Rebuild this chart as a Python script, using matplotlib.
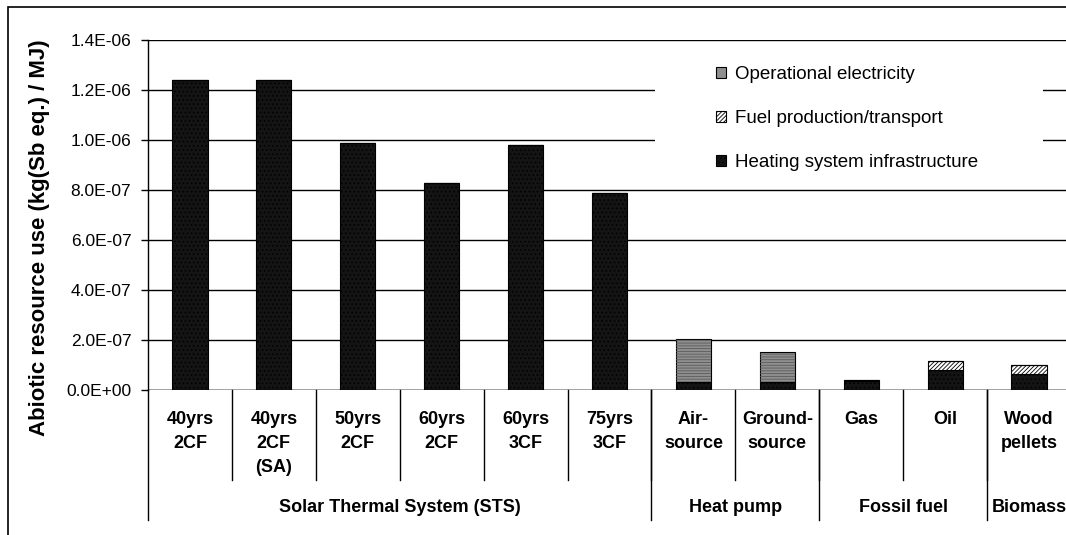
import matplotlib
matplotlib.use("Agg")
import matplotlib.pyplot as plt
from matplotlib.patches import Rectangle
from matplotlib.ticker import FuncFormatter, MultipleLocator

plt.rcParams['font.family'] = ['Liberation Sans', 'DejaVu Sans']
plt.rcParams['hatch.linewidth'] = 0.6

# ---- data (kg Sb eq. / MJ) ----
line1 = ["40yrs", "40yrs", "50yrs", "60yrs", "60yrs", "75yrs", "Air-", "Ground-", "Gas", "Oil", "Wood"]
line2 = ["2CF", "2CF", "2CF", "2CF", "3CF", "3CF", "source", "source", "", "", "pellets"]
line3 = ["", "(SA)", "", "", "", "", "", "", "", "", ""]
groups = ["Solar Thermal System (STS)", "Heat pump", "Fossil fuel", "Biomass"]
group_sizes = [6, 2, 2, 1]

infrastructure = [1.24e-6, 1.24e-6, 0.99e-6, 0.83e-6, 0.98e-6, 0.788e-6,
                  0.033e-6, 0.033e-6, 0.036e-6, 0.082e-6, 0.063e-6]
fuel = [0, 0, 0, 0, 0, 0, 0, 0, 0.003e-6, 0.034e-6, 0.037e-6]
operational = [0, 0, 0, 0, 0, 0, 0.171e-6, 0.119e-6, 0, 0, 0]

series_names = ["Heating system infrastructure", "Fuel production/transport", "Operational electricity"]
ylabel = "Abiotic resource use (kg(Sb eq.) / MJ)"

W, H = 1066, 535
fig = plt.figure(figsize=(W / 100, H / 100), dpi=100)
ax_l, ax_r, ax_t, ax_b = 148, 1071, 40, 390
ax = fig.add_axes([ax_l / W, 1 - ax_b / H, (ax_r - ax_l) / W, (ax_b - ax_t) / H])

n = len(line1)
x = list(range(n))
bw = 0.42
b1 = ax.bar(x, infrastructure, bw, color="#141414", edgecolor="black", lw=0.8,
            hatch="....", zorder=3, label=series_names[0])
bottom2 = infrastructure
b2 = ax.bar(x, fuel, bw, bottom=bottom2, color="white", edgecolor="black", lw=0.8,
            hatch="////////", zorder=3, label=series_names[1])
bottom3 = [a + b for a, b in zip(infrastructure, fuel)]
b3 = ax.bar(x, operational, bw, bottom=bottom3, color="#8f8f8f", edgecolor="black", lw=0.8,
            zorder=3, label=series_names[2])
# subtle horizontal texture on the operational segments
ax.bar(x, operational, bw, bottom=bottom3, fill=False, edgecolor="#5a5a5a", lw=0,
       hatch="------", zorder=3.5)

ax.set_xlim(-0.5, n - 0.5)
ax.set_ylim(0, 1.4e-6)
ax.yaxis.set_major_locator(MultipleLocator(0.2e-6))
ax.yaxis.set_major_formatter(FuncFormatter(lambda v, p: f"{v:.1E}"))
ax.grid(axis="y", color="black", lw=1.0, zorder=0)
ax.set_axisbelow(True)
for s in ["top", "right", "bottom"]:
    ax.spines[s].set_visible(False)
ax.spines["left"].set_linewidth(1.0)
ax.set_xticks([])
ax.tick_params(axis="y", direction="out", length=5, width=1, pad=7, labelsize=12.5)
ax.axhline(0, color="black", lw=1.0, zorder=4)

# category label area
tr = ax.get_xaxis_transform()
def ay(py):
    return (ax_b - py) / (ax_b - ax_t)

ax.plot([-0.5, -0.5], [0, ay(520)], transform=tr, color="black", lw=1.0, clip_on=False)
for i in range(1, n):
    ax.plot([i - 0.5, i - 0.5], [0, ay(480)], transform=tr, color="black", lw=1.0, clip_on=False)
start = 0
for g, sz in zip(groups, group_sizes):
    end = start + sz
    ax.plot([end - 0.5, end - 0.5], [0, ay(520)], transform=tr, color="black", lw=1.0, clip_on=False)
    ax.text((start + end - 1) / 2, ay(508), g, transform=tr, ha="center", va="center",
            fontsize=13, fontweight="bold", clip_on=False)
    start = end
for i in range(n):
    for txt, py in zip([line1[i], line2[i], line3[i]], [420, 444, 468]):
        if txt:
            ax.text(i, ay(py), txt, transform=tr, ha="center", va="center",
                    fontsize=13, fontweight="bold", clip_on=False)

# legend background
ax.add_patch(Rectangle(((655 - ax_l) / (ax_r - ax_l), ay(185)), (1043 - 655) / (ax_r - ax_l),
                       ay(47) - ay(185), transform=ax.transAxes, facecolor="white",
                       edgecolor="none", zorder=1))
leg = ax.legend(handles=[b3, b2, b1], loc="upper left",
                bbox_to_anchor=(716 / W, 1 - 66 / H), bbox_transform=fig.transFigure,
                frameon=False, fontsize=13.5, handlelength=0.55, handleheight=0.55,
                handletextpad=0.45, labelspacing=1.45, borderpad=0, borderaxespad=0)

fig.text(40 / W, 1 - 238 / H, ylabel, rotation=90, ha="center", va="center",
         fontsize=16, fontweight="bold")

# outer chart frame
fig.add_artist(Rectangle((8 / W, -0.1), 2, 1 - 7 / H + 0.1, transform=fig.transFigure,
                         fill=False, edgecolor="black", lw=1.2))

fig.savefig("out.png", dpi=100, facecolor="white")
